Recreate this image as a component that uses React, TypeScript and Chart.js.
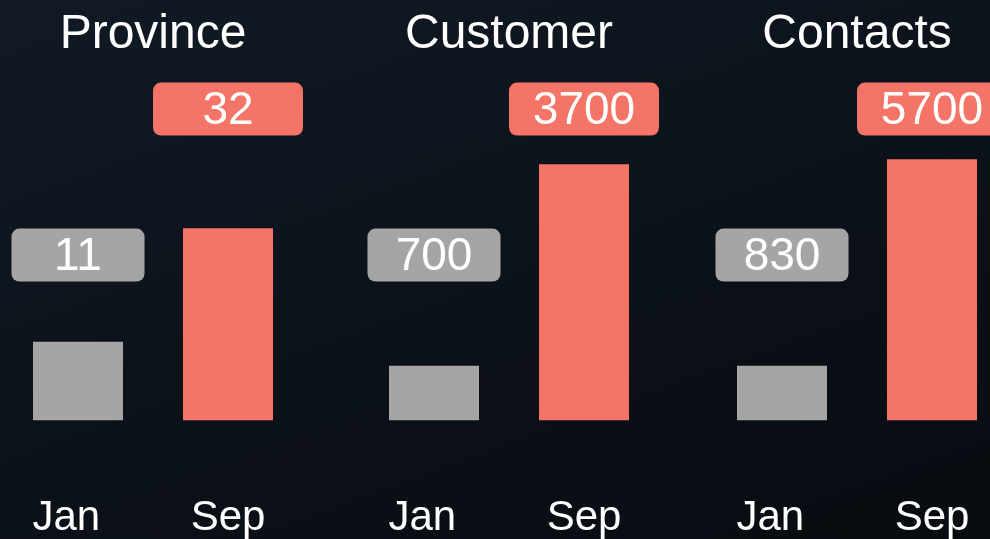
import React, { useEffect, useRef } from "react";
import { Chart, registerables } from "chart.js";

Chart.register(...registerables);

const months = ["Jan  ", "Sep"];
const groupTitles = ["Province", "Customer", "Contacts"];
const provinceValues = [11, 32];
const customerValues = [700, 3700];
const contactsValues = [830, 5700];
const groupValues = [provinceValues, customerValues, contactsValues];
// per-group value axis ranges (each panel has its own scale)
const axisMin = [-3.55, -117, -464];
const axisMax = [62.4, 5200, 7958];

const barColors = ["#a5a5a5", "#f47468"];
const FONT = "Arial, 'Liberation Sans', Helvetica, sans-serif";

const panelLeft = [3, 359, 707];
const PANEL_W = 300;
const PANEL_H = 544;

const labelBoxes = {
  id: "labelBoxes",
  afterDatasetsDraw(chart: any) {
    const ctx = chart.ctx;
    const meta = chart.getDatasetMeta(0);
    const data = chart.data.datasets[0].data as number[];
    const area = chart.chartArea;
    meta.data.forEach((bar: any, i: number) => {
      const w = i === 0 ? 133 : 150;
      const h = 53;
      const cy = i === 0 ? area.top + 191.5 : area.top + 45.5;
      const x = bar.x - w / 2;
      const y = cy - h / 2;
      ctx.save();
      ctx.fillStyle = barColors[i];
      ctx.beginPath();
      (ctx as any).roundRect(x, y, w, h, 8);
      ctx.fill();
      ctx.fillStyle = "#ffffff";
      ctx.font = `46px ${FONT}`;
      ctx.textAlign = "center";
      ctx.textBaseline = "middle";
      ctx.fillText(String(data[i]), bar.x, cy + 2);
      ctx.restore();
    });
  },
};

function Panel({ idx }: { idx: number }) {
  const ref = useRef<HTMLCanvasElement | null>(null);
  useEffect(() => {
    if (!ref.current) return;
    const chart = new Chart(ref.current, {
      type: "bar",
      data: {
        labels: months,
        datasets: [
          {
            data: groupValues[idx],
            backgroundColor: barColors,
            borderWidth: 0,
            barPercentage: 0.6,
            categoryPercentage: 1,
            base: axisMin[idx],
          } as any,
        ],
      },
      options: {
        responsive: false,
        animation: false,
        devicePixelRatio: 1,
        layout: { padding: 0 },
        plugins: {
          legend: { display: false },
          tooltip: { enabled: false },
          title: {
            display: true,
            text: groupTitles[idx],
            color: "#ffffff",
            font: { family: FONT, size: 48, weight: "normal" as any },
            padding: { top: 6, bottom: 0 },
          },
        },
        scales: {
          x: {
            grid: { display: false, drawTicks: true, tickLength: 73 },
            border: { display: false },
            ticks: {
              color: "#ffffff",
              font: { family: FONT, size: 42 },
              padding: 0,
            },
          },
          y: {
            display: false,
            min: axisMin[idx],
            max: axisMax[idx],
          },
        },
      },
      plugins: [labelBoxes],
    });
    return () => chart.destroy();
  }, [idx]);
  return (
    <canvas
      ref={ref}
      width={PANEL_W}
      height={PANEL_H}
      style={{ position: "absolute", left: panelLeft[idx], top: 0, width: PANEL_W, height: PANEL_H }}
    />
  );
}

export default function App() {
  return (
    <div
      style={{
        position: "fixed",
        left: 0,
        top: 0,
        width: 990,
        height: 539,
        overflow: "hidden",
        background: "linear-gradient(160deg, #111a25 0%, #0c121a 50%, #080c11 100%)",
      }}
    >
      {[0, 1, 2].map((i) => (
        <Panel key={i} idx={i} />
      ))}
    </div>
  );
}
